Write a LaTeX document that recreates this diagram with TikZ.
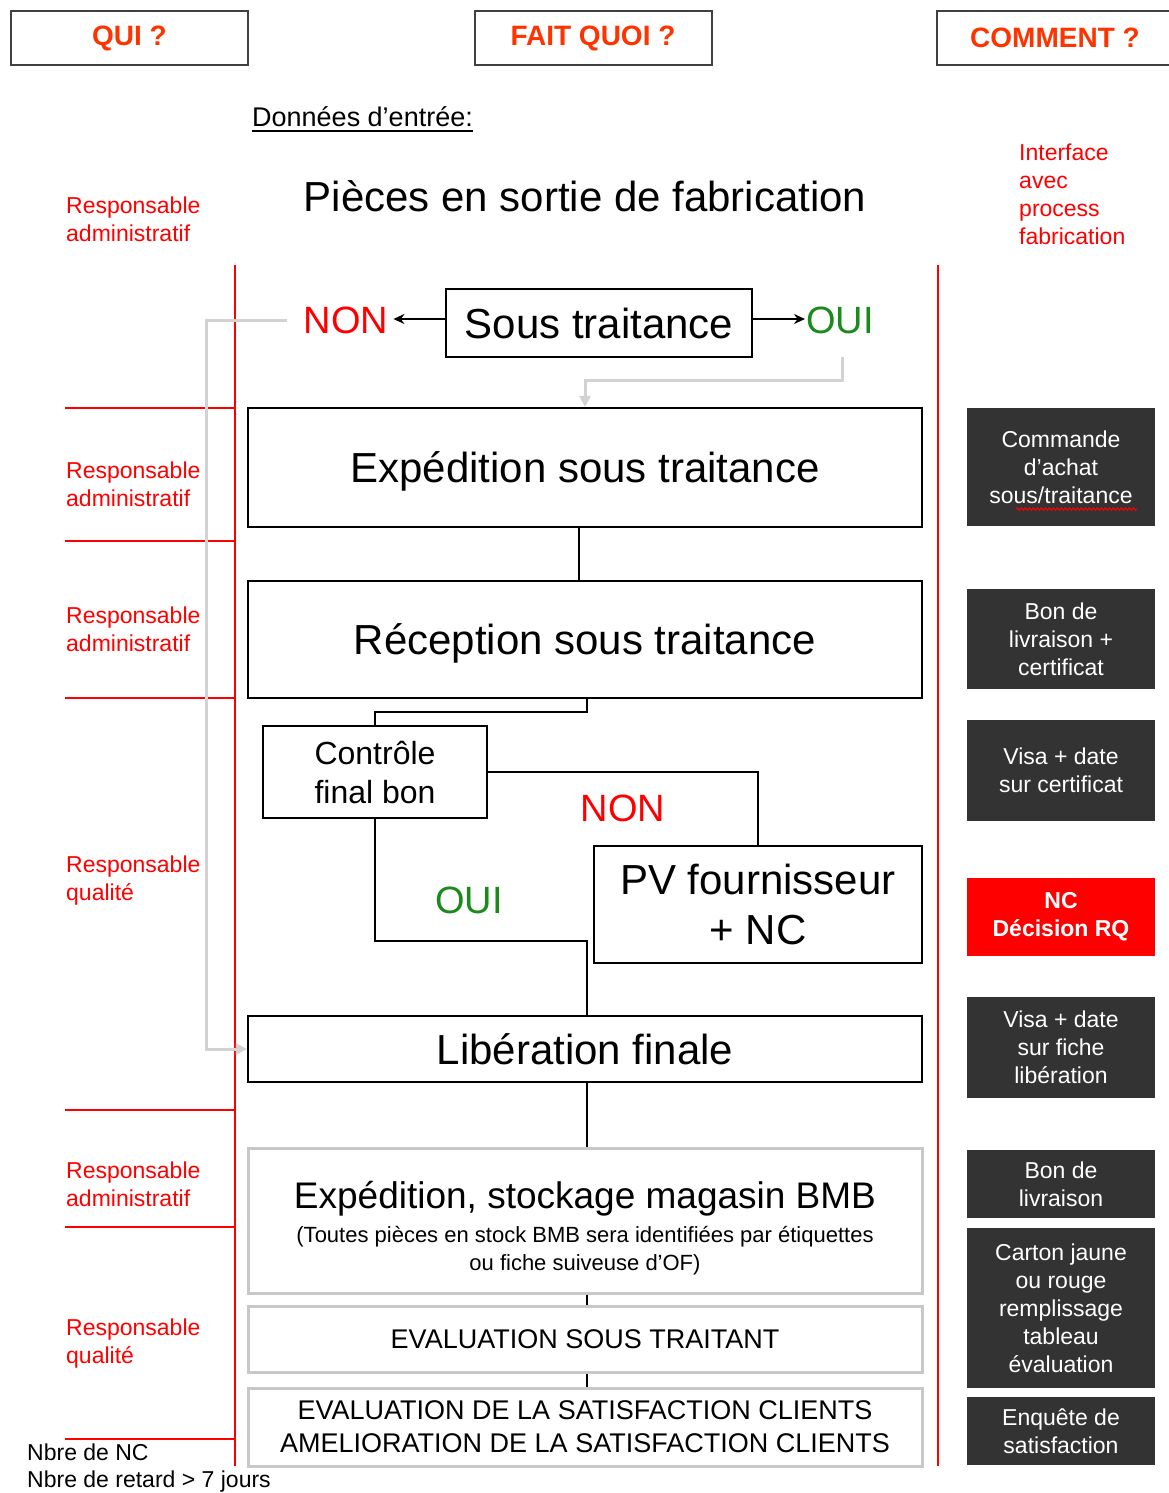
\documentclass[tikz,border=0pt]{standalone}
\usepackage{fontspec}
\setmainfont{Liberation Sans}
\usetikzlibrary{arrows.meta,decorations.pathmorphing}

\definecolor{hdrred}{HTML}{FF3300}
\definecolor{labred}{HTML}{FF0000}
\definecolor{okgreen}{HTML}{1A8A1A}
\definecolor{howgray}{HTML}{333333}
\definecolor{fbgray}{HTML}{D2D2D2}
\definecolor{softgray}{HTML}{C8C8C8}
\newcommand{\fsz}[2]{\fontsize{#1}{#2}\selectfont}

\tikzset{
  hdr/.style={draw=black!75, line width=2pt, minimum width=237pt, minimum height=54pt,
    inner sep=0pt, text=hdrred, font=\fsz{28}{32}\bfseries},
  flow/.style={draw=black, line width=2.2pt, inner sep=0pt, align=center,
    minimum width=674pt, font=\fsz{42}{50}},
  oneline/.style={text height=30pt, text depth=0pt},
  soft/.style={draw=softgray, line width=3pt, inner sep=0pt, align=center,
    minimum width=674pt},
  who/.style={text=labred, font=\fsz{23}{28}, align=left, anchor=west, inner sep=0pt},
  how/.style={fill=howgray, text=white, font=\fsz{23}{28}, align=center, inner sep=0pt,
    minimum width=188pt},
  answer/.style={font=\fsz{38}{44}, inner xsep=5pt, inner ysep=0pt},
  link/.style={draw=black, line width=2pt},
  arr/.style={draw=black, line width=2pt, -{Stealth[length=11pt,width=10pt]}},
  fb/.style={draw=fbgray, line width=3pt, -{Triangle[length=11pt,width=11pt]}},
  lane/.style={draw=labred, line width=2.5pt},
}

\begin{document}
\begin{tikzpicture}[x=1pt,y=-1pt]
\useasboundingbox (0,0) rectangle (1169,1493);
\fill[white] (0,0) rectangle (1169,1493);

% column headers
\node[hdr] (qui) at (129.5,38) {QUI ?};
\node[hdr] (fait) at (593,38) {FAIT QUOI ?};
\node[hdr, minimum width=236pt] (comment) at (1055,38) {COMMENT ?};

% input data
\node[anchor=west, inner sep=0pt, font=\fsz{27}{32}] (donnees) at (252,117) {Données d’entrée:};
\draw[line width=1.6pt] ([yshift=-4pt]donnees.south west) -- ([yshift=-4pt]donnees.south east);
\node[inner sep=0pt, font=\fsz{42}{50}] (pieces) at (585,196) {Pièces en sortie de fabrication};

% swim-lane separators
\draw[lane] (235,265) -- (235,1466);
\draw[lane] (938,265) -- (938,1466);
\foreach \yy in {408,541,698,1110,1227,1439}
  \draw[lane] (65,\yy) -- (235,\yy);

% who
\node[who] (w1) at (66,219) {Responsable\\administratif};
\node[who] (w2) at (66,484) {Responsable\\administratif};
\node[who] (w3) at (66,629) {Responsable\\administratif};
\node[who] (w4) at (66,881) {Responsable\\qualité};
\node[who] (w5) at (66,1184) {Responsable\\administratif};
\node[who] (w6) at (66,1344) {Responsable\\qualité};
\node[who] (iface) at (1019,194) {Interface\\avec\\process\\fabrication};

% process steps
\node[flow, oneline, minimum width=306pt, minimum height=68pt] (sous) at (599,323) {Sous traitance};
\node[answer, text=labred] (non) at (346,320) {NON};
\node[answer, text=okgreen, inner xsep=1pt] (oui) at (840,320) {OUI};
\node[flow, oneline, minimum height=119pt] (exp) at (585,467.5) {Expédition sous traitance};
\node[flow, oneline, minimum height=117pt] (rec) at (585,639.5) {Réception sous traitance};
\node[flow, minimum width=224pt, minimum height=92pt, font=\fsz{32}{39}] (ctrl) at (375,772) {Contrôle\\final bon};
\node[flow, minimum width=328pt, minimum height=117pt] (pv) at (758,904.5) {PV fournisseur\\+ NC};
\node[answer, text=labred] (non2) at (623,808) {NON};
\node[answer, text=okgreen] (oui2) at (469,900) {OUI};
\node[flow, oneline, minimum height=66pt] (lib) at (585,1049) {Libération finale};
\node[soft, minimum height=145pt, font=\fsz{22}{28}] (stk) at (585,1220.5)
  {{\fsz{37}{44}\rule{0pt}{43pt}Expédition, stockage magasin BMB}\\[6pt](Toutes pièces en stock BMB sera identifiées par étiquettes\\ou fiche suiveuse d’OF)};
\node[soft, minimum height=66pt, font=\fsz{27}{33}] (evs) at (585,1339) {EVALUATION SOUS TRAITANT};
\node[soft, minimum height=78pt, font=\fsz{27}{33}] (evc) at (585,1427)
  {EVALUATION DE LA SATISFACTION CLIENTS\\AMELIORATION DE LA SATISFACTION CLIENTS};

% indicators
\node[anchor=west, inner sep=0pt, font=\fsz{23}{27}, align=left] (kpi) at (27,1468)
  {Nbre de NC\\Nbre de retard > 7 jours};

% how
\node[how, minimum height=118pt] (com) at (1061,467) {Commande\\d'achat\\sous/traitance};
\draw[draw=labred, line width=1pt, decorate,
  decoration={snake, amplitude=1.3pt, segment length=4pt}] (1016,509) -- (1137,509);
\node[how, minimum height=100pt] (bl1) at (1061,639) {Bon de\\livraison +\\certificat};
\node[how, minimum height=101pt] (visa1) at (1061,770.5) {Visa + date\\sur certificat};
\node[how, fill=labred, minimum height=78pt, font=\fsz{23}{28}\bfseries] (nc) at (1061,917) {NC\\Décision RQ};
\node[how, minimum height=101pt] (visa2) at (1061,1047.5) {Visa + date\\sur fiche\\libération};
\node[how, minimum height=68pt] (bl2) at (1061,1184) {Bon de\\livraison};
\node[how, minimum height=160pt] (carton) at (1061,1308) {Carton jaune\\ou rouge\\remplissage\\tableau\\évaluation};
\node[how, minimum height=68pt] (enq) at (1061,1431) {Enquête de\\satisfaction};

% connectors
\draw[arr] ([yshift=4pt]sous.west) -- ([yshift=4pt]sous.west -| non.east);
\draw[arr] ([yshift=4pt]sous.east) -- ([yshift=4pt]sous.east -| oui.west);
\coordinate (ouidrop) at (842,357);
\draw[fb] (ouidrop) -- (842,380) -| (exp.north);
\coordinate (fbcorner) at (206,320);
\draw[fb] ([xshift=-12pt]non.west) -- (fbcorner) |- (lib.west);
\draw[link] ([xshift=-6pt]exp.south) -- ([xshift=-6pt]rec.north);
\draw[link] ([xshift=2pt]rec.south) -- ++(0,13) -| (ctrl.north);
\draw[link] (ctrl.east) -| (pv.north);
\draw[link] (ctrl.south) -- ++(0,122) -| ([xshift=2pt]lib.north);
\draw[link] ([xshift=2pt]lib.south) -- ([xshift=2pt]stk.north);
\draw[link] ([xshift=2pt]stk.south) -- ([xshift=2pt]evs.north);
\draw[link] ([xshift=2pt]evs.south) -- ([xshift=2pt]evc.north);
\end{tikzpicture}
\end{document}
